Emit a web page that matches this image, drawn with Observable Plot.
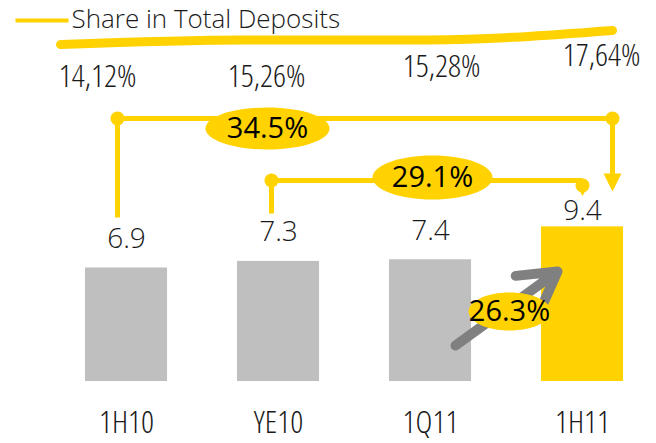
<!DOCTYPE html>
<html>
<head>
<meta charset="utf-8">
<script src="https://cdn.jsdelivr.net/npm/d3@7"></script>
<script src="https://cdn.jsdelivr.net/npm/@observablehq/plot@0.6"></script>
<style>
  html, body { margin: 0; padding: 0; background: #fff; }
  #chart svg { display: block; }
  #chart text { font-family: "Open Sans", "Noto Sans", sans-serif; font-weight: 300; }
  #chart .cond text { font-stretch: 85%; }
  #chart .semi text { font-stretch: 88%; font-weight: 400; }
</style>
</head>
<body>
<div id="chart"></div>
<script>
// ---- data ----
const categories = ["1H10", "YE10", "1Q11", "1H11"];
const values = [6.9, 7.3, 7.4, 9.4];
const valueLabels = ["6.9", "7.3", "7.4", "9.4"];
const shares = [14.12, 15.26, 15.28, 17.64];
const shareLabels = ["14,12%", "15,26%", "15,28%", "17,64%"];
const legendLabel = "Share in Total Deposits";
const growthLabels = ["34.5%", "29.1%", "26.3%"];

// ---- layout ----
const YELLOW = "#FFD200", GRAY = "#BFBFBF", DARKGRAY = "#808080", INK = "#1a1a1a";
const W = 656, H = 443, base = 381, ppu = 16.45, step = 152, x0 = 126;
const X = px => (px - x0) / step;       // pixel -> x data units
const Y = py => (base - py) / ppu;      // pixel -> y data units

const bars = categories.map((c, i) => ({c, i, v: values[i], label: valueLabels[i]}));

// share line: evenly spaced points, height proportional to share
const lx = d3.scaleLinear([0, 3], [X(60), X(612)]);
const ly = d3.scaleLinear([shares[0], shares[3]], [Y(44), Y(30)]);
const sharePts = shares.map((s, i) => ({x: lx(i), y: ly(s)}));
const shareLabelPos = [[97, 76], [266, 76], [441, 66], [601, 55]];
const shareText = shareLabels.map((t, i) => ({t, x: X(shareLabelPos[i][0]), y: Y(shareLabelPos[i][1])}));

function ellipse(rx, ry) {
  const k = 0.5523;
  return {draw(c) {
    c.moveTo(rx, 0);
    c.bezierCurveTo(rx, ry * k, rx * k, ry, 0, ry);
    c.bezierCurveTo(-rx * k, ry, -rx, ry * k, -rx, 0);
    c.bezierCurveTo(-rx, -ry * k, -rx * k, -ry, 0, -ry);
    c.bezierCurveTo(rx * k, -ry, rx, -ry * k, rx, 0);
    c.closePath();
  }};
}
function triDown(w, h) {
  return {draw(c) { c.moveTo(-w / 2, -h / 2); c.lineTo(w / 2, -h / 2); c.lineTo(0, h / 2); c.closePath(); }};
}

// bracket 1: 1H10 -> 1H11
const b1 = {xl: X(117), xr: X(612), y: Y(118), yl: Y(217), yr: Y(180)};
// bracket 2: YE10 -> 1H11
const b2 = {xl: X(271), xr: X(582), y: Y(180), yl: Y(213)};

const links = [
  {x1: b1.xl, y1: b1.y, x2: b1.xr, y2: b1.y},
  {x1: b1.xl, y1: b1.y, x2: b1.xl, y2: b1.yl},
  {x1: b1.xr, y1: b1.y, x2: b1.xr, y2: b1.yr},
  {x1: b2.xl, y1: b2.y, x2: b2.xr, y2: b2.y},
  {x1: b2.xl, y1: b2.y, x2: b2.xl, y2: b2.yl},
  {x1: b2.xr, y1: b2.y, x2: b2.xr, y2: Y(186)}
];
const ends = [
  {x: b1.xl, y: b1.y}, {x: b1.xr, y: b1.y}, {x: b2.xl, y: b2.y}, {x: b2.xr, y: Y(185)}
];
const bubbles = [
  {x: X(267), y: Y(128), t: growthLabels[0], s: ellipse(62, 21)},
  {x: X(432), y: Y(177), t: growthLabels[1], s: ellipse(60, 22)},
  {x: X(509), y: Y(311), t: growthLabels[2], s: ellipse(41, 19)}
];

const chart = Plot.plot({
  width: W, height: H,
  marginTop: 0, marginBottom: H - base, marginLeft: 0, marginRight: 0,
  x: {type: "linear", domain: [X(0), X(W)], axis: null},
  y: {domain: [0, Y(0)], axis: null},
  marks: [
    // legend
    Plot.link([{x1: X(15), x2: X(68), y1: Y(20), y2: Y(20)}], {x1: "x1", x2: "x2", y1: "y1", y2: "y2", stroke: YELLOW, strokeWidth: 4}),
    Plot.text([legendLabel], {x: X(71), y: Y(19), text: d => d, textAnchor: "start", fontSize: 26, fill: INK}),
    // share line
    Plot.line(sharePts, {x: "x", y: "y", stroke: YELLOW, strokeWidth: 9, strokeLinecap: "round", curve: "monotone-x"}),
    Plot.text(shareText, {x: "x", y: "y", text: "t", fontSize: 32, fill: INK, className: "cond"}),
    // bars
    Plot.rectY(bars, {x1: d => d.i - 0.27, x2: d => d.i + 0.27, y: "v", fill: d => d.i === 3 ? YELLOW : GRAY}),
    Plot.text(bars.slice(0, 3), {x: "i", y: "v", text: "label", dy: -29, fontSize: 28, fill: INK}),
    Plot.text(bars.slice(3), {x: "i", y: "v", text: "label", dy: -16, fontSize: 28, fill: INK}),
    // category labels
    Plot.text(bars, {x: "i", y: 0, text: "c", dy: 41, fontSize: 32, fill: INK, className: "cond"}),
    // brackets
    Plot.link(links, {x1: "x1", y1: "y1", x2: "x2", y2: "y2", stroke: YELLOW, strokeWidth: 5}),
    Plot.dot(ends, {x: "x", y: "y", r: 7, fill: YELLOW}),
    Plot.dot([{x: b1.xr, y: Y(182)}], {x: "x", y: "y", symbol: triDown(18, 18), fill: YELLOW}),
    Plot.dot([{x: b2.xr, y: Y(191)}], {x: "x", y: "y", symbol: triDown(10, 9), fill: YELLOW}),
    // gray arrow
    Plot.arrow([{x1: X(455), y1: Y(345), x2: X(557), y2: Y(271)}], {x1: "x1", y1: "y1", x2: "x2", y2: "y2",
      stroke: DARKGRAY, strokeWidth: 10, headLength: 16, bend: 0}),
    // bubbles
    Plot.dot(bubbles, {x: "x", y: "y", symbol: d => d.s, fill: YELLOW, stroke: "none"}),
    Plot.text(bubbles, {x: "x", y: "y", text: "t", fontSize: 29, fill: "#000", className: "semi"})
  ]
});
document.getElementById("chart").append(chart);
</script>
</body>
</html>
